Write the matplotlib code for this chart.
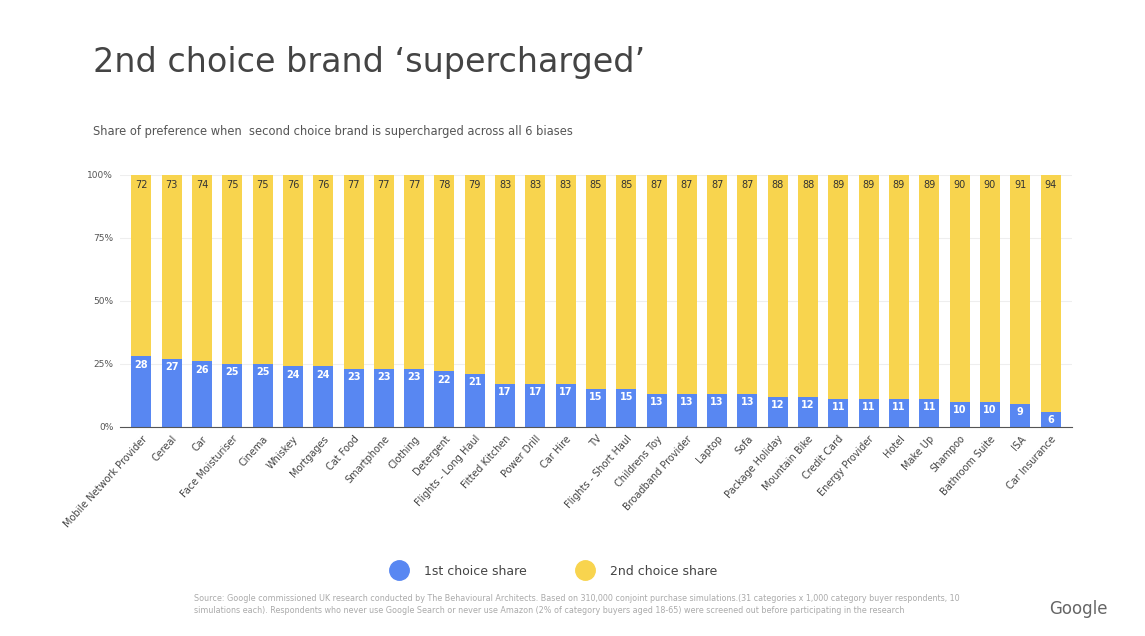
import matplotlib
matplotlib.use("Agg")
import matplotlib.pyplot as plt
from matplotlib.lines import Line2D

categories = ["Mobile Network Provider", "Cereal", "Car", "Face Moisturiser", "Cinema",
              "Whiskey", "Mortgages", "Cat Food", "Smartphone", "Clothing", "Detergent",
              "Flights - Long Haul", "Fitted Kitchen", "Power Drill", "Car Hire", "TV",
              "Flights - Short Haul", "Childrens Toy", "Broadband Provider", "Laptop", "Sofa",
              "Package Holiday", "Mountain Bike", "Credit Card", "Energy Provider", "Hotel",
              "Make Up", "Shampoo", "Bathroom Suite", "ISA", "Car Insurance"]
first_share = [28, 27, 26, 25, 25, 24, 24, 23, 23, 23, 22, 21, 17, 17, 17, 15,
               15, 13, 13, 13, 13, 12, 12, 11, 11, 11, 11, 10, 10, 9, 6]
second_share = [72, 73, 74, 75, 75, 76, 76, 77, 77, 77, 78, 79, 83, 83, 83, 85,
                85, 87, 87, 87, 87, 88, 88, 89, 89, 89, 89, 90, 90, 91, 94]

C_BLUE = "#5887F2"
C_YELLOW = "#F8D44E"

fig = plt.figure(figsize=(11.45, 6.36), dpi=100)
ax = fig.add_axes([0.105, 0.329, 0.831, 0.396])
x = range(len(categories))
ax.bar(x, first_share, width=0.66, color=C_BLUE, zorder=2)
ax.bar(x, second_share, bottom=first_share, width=0.66, color=C_YELLOW, zorder=2)
for i, (a, b) in enumerate(zip(first_share, second_share)):
    ax.text(i, a - 3.3, str(a), ha="center", va="center", color="white",
            fontsize=7, fontweight="bold")
    ax.text(i, 96, str(b), ha="center", va="center", color="#333333", fontsize=7)

ax.set_xlim(-0.7, len(categories) - 0.3)
ax.set_ylim(0, 100)
ax.set_yticks([0, 25, 50, 75, 100])
ax.set_yticklabels(["0%", "25%", "50%", "75%", "100%"], fontsize=6.5, color="#555555")
ax.set_xticks(list(x))
ax.set_xticklabels(categories, rotation=48, ha="right", rotation_mode="anchor",
                   fontsize=7, color="#444444")
ax.tick_params(length=0, pad=5)
ax.grid(axis="y", color="#EEEEEE", lw=0.8, zorder=0)
for s in ("top", "right", "left"):
    ax.spines[s].set_visible(False)
ax.spines["bottom"].set_color("#555555")

fig.text(0.081, 0.902, "2nd choice brand \u2018supercharged\u2019", fontsize=24,
         color="#444444", va="center")
fig.text(0.081, 0.794, "Share of preference when  second choice brand is supercharged across all 6 biases",
         fontsize=8.3, color="#555555", va="center")

handles = [Line2D([0], [0], marker="o", ls="", markersize=14, color=C_BLUE),
           Line2D([0], [0], marker="o", ls="", markersize=14, color=C_YELLOW)]
fig.legend(handles, ["1st choice share", "2nd choice share"], loc="center",
           bbox_to_anchor=(0.482, 0.102), ncol=2, frameon=False, fontsize=9,
           columnspacing=3.6, handletextpad=1.0, labelcolor="#444444")

fig.text(0.169, 0.05, "Source: Google commissioned UK research conducted by The Behavioural Architects. Based on 310,000 conjoint purchase simulations.(31 categories x 1,000 category buyer respondents, 10\n"
         "simulations each). Respondents who never use Google Search or never use Amazon (2% of category buyers aged 18-65) were screened out before participating in the research",
         fontsize=5.8, color="#AAAAAA", va="center", linespacing=1.4)
fig.text(0.916, 0.042, "Google", fontsize=12, color="#666666", va="center")

fig.savefig("out.png", dpi=100)
